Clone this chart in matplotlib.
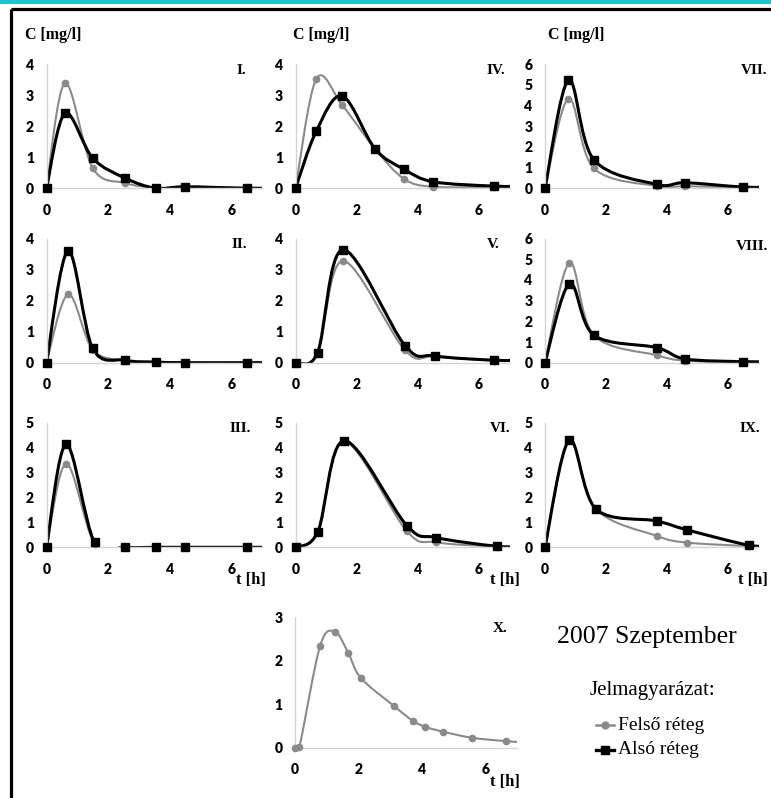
import numpy as np
import matplotlib.pyplot as plt
from matplotlib.path import Path
from matplotlib.patches import PathPatch, Rectangle
from matplotlib.lines import Line2D

W, H = 771, 798

# ---- adatok (t [h], C [mg/l]) ----
t_I = [0, 0.6, 1.5, 2.55, 3.55, 4.5, 6.5, 7.5]
felso_I = [0, 3.38, 0.65, 0.17, 0.02, 0.05, 0.02, 0.02]
also_I = [0, 2.41, 0.97, 0.33, 0.0, 0.05, 0.0, 0.0]

t_II = [0, 0.7, 1.5, 2.55, 3.55, 4.5, 6.5, 7.5]
felso_II = [0, 2.2, 0.42, 0.07, 0.02, 0, 0, 0]
also_II = [0, 3.6, 0.46, 0.08, 0.02, 0, 0, 0]

t_III = [0, 0.64, 1.56, 2.55, 3.54, 4.5, 6.5, 7.5]
felso_III = [0, 3.36, 0.15, 0, 0, 0, 0, 0]
also_III = [0, 4.14, 0.2, 0, 0, 0, 0, 0]

t_IV = [0, 0.68, 1.53, 2.6, 3.55, 4.5, 6.5, 7.5]
felso_IV = [0, 3.52, 2.67, 1.27, 0.3, 0.05, 0.05, 0.05]
also_IV = [0, 1.84, 2.97, 1.27, 0.61, 0.21, 0.07, 0.07]

t_V = [0, 0.72, 1.55, 3.58, 4.55, 6.5, 7.5]
felso_V = [0, 0.3, 3.28, 0.4, 0.2, 0.07, 0.07]
also_V = [0, 0.32, 3.64, 0.55, 0.22, 0.08, 0.08]

t_VI = [0, 0.73, 1.59, 3.64, 4.6, 6.6, 7.5]
felso_VI = [0, 0.6, 4.25, 0.65, 0.2, 0.03, 0.03]
also_VI = [0, 0.63, 4.29, 0.87, 0.39, 0.04, 0.04]

t_VII = [0, 0.77, 1.6, 3.66, 4.6, 6.5, 7.5]
felso_VII = [0, 4.33, 0.97, 0.11, 0.1, 0.05, 0.05]
also_VII = [0, 5.22, 1.38, 0.19, 0.27, 0.06, 0.06]

t_VIII = [0, 0.8, 1.6, 3.66, 4.6, 6.5, 7.5]
felso_VIII = [0, 4.82, 1.33, 0.36, 0.1, 0.03, 0.03]
also_VIII = [0, 3.81, 1.33, 0.73, 0.18, 0.05, 0.05]

t_IX = [0, 0.79, 1.67, 3.66, 4.66, 6.7, 7.5]
felso_IX = [0, 4.3, 1.54, 0.46, 0.19, 0.05, 0.05]
also_IX = [0, 4.3, 1.54, 1.06, 0.7, 0.08, 0.08]

t_X = [0, 0.14, 0.79, 1.26, 1.68, 2.08, 3.12, 3.71, 4.11, 4.66, 5.57, 6.66, 7.5]
felso_X = [0, 0.02, 2.34, 2.67, 2.18, 1.6, 0.96, 0.62, 0.48, 0.37, 0.23, 0.15, 0.11]

ymax = {'I': 4, 'II': 4, 'III': 5, 'IV': 4, 'V': 4, 'VI': 5,
        'VII': 6, 'VIII': 6, 'IX': 5, 'X': 3}

SZURKE = '#8a8a8a'
FEKETE = '#000000'
serif = 'Liberation Serif'


def smooth_path(t, c):
    # Excel-szeru simitott vonal (Catmull-Rom -> Bezier)
    p = np.column_stack([t, c]).astype(float)
    p = np.vstack([p[0], p, p[-1]])
    verts = [p[1]]
    codes = [Path.MOVETO]
    for i in range(1, len(p) - 2):
        c1 = p[i] + (p[i + 1] - p[i - 1]) / 6
        c2 = p[i + 1] - (p[i + 2] - p[i]) / 6
        verts += [c1, c2, p[i + 1]]
        codes += [Path.CURVE4] * 3
    return Path(verts, codes)


def sorozat(ax, t, c, szin, lw, marker, ms):
    ax.add_patch(PathPatch(smooth_path(t, c), fill=False, edgecolor=szin,
                           lw=lw, capstyle='round', joinstyle='round'))
    t = np.array(t)
    c = np.array(c)
    m = t <= 7
    ax.plot(t[m], c[m], ls='none', marker=marker, ms=ms, color=szin,
            clip_on=False, zorder=3)


def panel(rect_px, nev, t, felso, also=None):
    l, top, r, bot = rect_px
    ax = fig.add_axes([l / W, 1 - bot / H, (r - l) / W, (bot - top) / H])
    ax.set_facecolor('none')
    ax.set_xlim(0, 7)
    ax.set_ylim(0, ymax[nev])
    ax.set_xticks([0, 2, 4, 6])
    ax.set_yticks(range(ymax[nev] + 1))
    for s in ['top', 'right']:
        ax.spines[s].set_visible(False)
    for s in ['left', 'bottom']:
        ax.spines[s].set_color('#d4d4d4')
        ax.spines[s].set_linewidth(1)
    ax.tick_params(length=0, labelsize=10)
    ax.tick_params(axis='y', pad=9)
    ax.tick_params(axis='x', pad=11)
    for lab in ax.get_xticklabels() + ax.get_yticklabels():
        lab.set_fontfamily('Lato')
        lab.set_fontweight('heavy')
    sorozat(ax, t, felso, SZURKE, 1.5, 'o', 4.5)
    if also is not None:
        sorozat(ax, t, also, FEKETE, 2.2, 's', 5.5)
    return ax


fig = plt.figure(figsize=(W / 100, H / 100), dpi=100)

# háttér réteg pixel-koordinatakban
bg = fig.add_axes([0, 0, 1, 1])
bg.set_xlim(0, W)
bg.set_ylim(H, 0)
bg.axis('off')
bg.add_patch(Rectangle((0, 0), W, 4, color='#1cc5cf', lw=0))
bg.plot([11, 11], [9, H], color='black', lw=2.3, solid_capstyle='butt')
bg.plot([11, W], [9, 9], color='black', lw=2.3, solid_capstyle='butt')

c1, c2, c3 = (46.5, 262.1), (295.5, 509.7), (545, 758.5)
r1, r2, r3 = (64, 188.3), (238.5, 362.7), (423, 547.3)

panel((c1[0], r1[0], c1[1], r1[1]), 'I', t_I, felso_I, also_I)
panel((c1[0], r2[0], c1[1], r2[1]), 'II', t_II, felso_II, also_II)
panel((c1[0], r3[0], c1[1], r3[1]), 'III', t_III, felso_III, also_III)
panel((c2[0], r1[0], c2[1], r1[1]), 'IV', t_IV, felso_IV, also_IV)
panel((c2[0], r2[0], c2[1], r2[1]), 'V', t_V, felso_V, also_V)
panel((c2[0], r3[0], c2[1], r3[1]), 'VI', t_VI, felso_VI, also_VI)
panel((c3[0], r1[0], c3[1], r1[1]), 'VII', t_VII, felso_VII, also_VII)
panel((c3[0], r2[0], c3[1], r2[1]), 'VIII', t_VIII, felso_VIII, also_VIII)
panel((c3[0], r3[0], c3[1], r3[1]), 'IX', t_IX, felso_IX, also_IX)
panel((295, 617.3, 517, 747.7), 'X', t_X, felso_X)

# feliratok
for x in [25, 293, 548]:
    bg.text(x, 35, 'C [mg/l]', fontfamily=serif, fontweight='bold',
            fontsize=11.5, ha='left', va='center')

szamok = [('I.', 246, 70), ('IV.', 505, 70), ('VII.', 767, 70),
          ('II.', 247, 244), ('V.', 500, 244), ('VIII.', 768, 247),
          ('III.', 251, 428), ('VI.', 510, 428), ('IX.', 760, 428),
          ('X.', 507, 628)]
for s, x, y in szamok:
    bg.text(x, y, s, fontfamily=serif, fontweight='bold', fontsize=11,
            ha='right', va='center')

for x, y in [(236, 580), (490, 580), (738, 580), (490, 782)]:
    bg.text(x, y, 't [h]', fontfamily=serif, fontweight='bold',
            fontsize=12, ha='left', va='center')

bg.text(647, 637, '2007 Szeptember', fontfamily=serif, fontsize=18.5,
        ha='center', va='center')
bg.text(652, 690, 'Jelmagyarázat:', fontfamily=serif, fontsize=15,
        ha='center', va='center')

# jelmagyarázat
bg.add_line(Line2D([596, 605, 614], [725, 725, 725], color=SZURKE, lw=1.8,
                   marker='o', ms=5, markevery=[1]))
bg.add_line(Line2D([596, 605, 614], [750, 750, 750], color=FEKETE, lw=2.4,
                   marker='s', ms=6, markevery=[1]))
bg.text(618, 725, 'Felső réteg', fontfamily=serif, fontsize=14,
        ha='left', va='center')
bg.text(618, 750, 'Alsó réteg', fontfamily=serif, fontsize=14,
        ha='left', va='center')

fig.savefig('out.png', dpi=100)
